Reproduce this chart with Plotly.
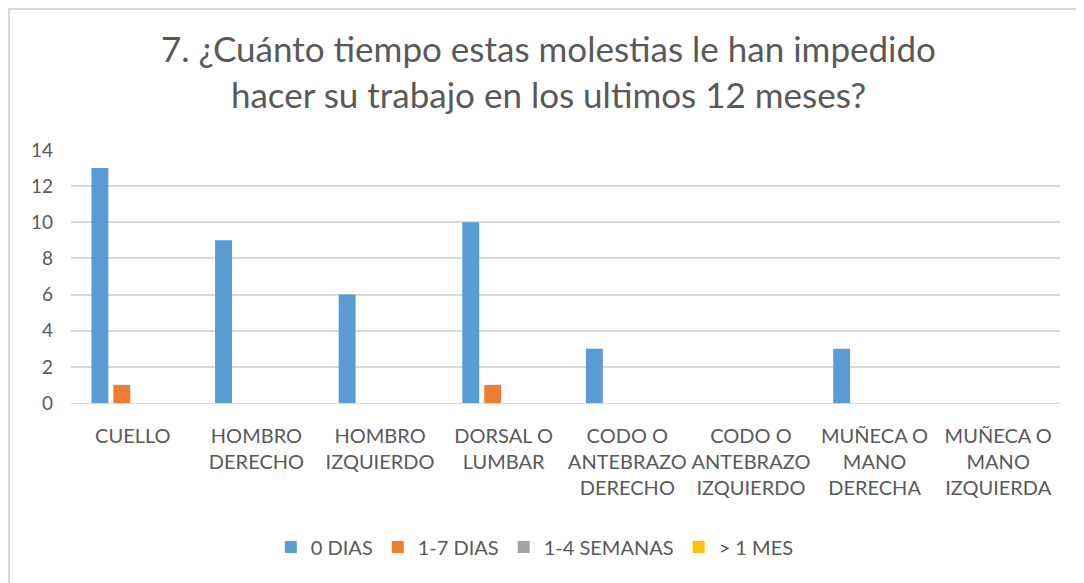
import plotly.graph_objects as go

categories = ["CUELLO", "HOMBRO<br>DERECHO", "HOMBRO<br>IZQUIERDO", "DORSAL O<br>LUMBAR",
              "CODO O<br>ANTEBRAZO<br>DERECHO", "CODO O<br>ANTEBRAZO<br>IZQUIERDO",
              "MUÑECA O<br>MANO<br>DERECHA", "MUÑECA O<br>MANO<br>IZQUIERDA"]
series_names = ["0 DIAS", "1-7 DIAS", "1-4 SEMANAS", "> 1 MES"]
dias_0 = [13, 9, 6, 10, 3, 0, 3, 0]
dias_1_7 = [1, 0, 0, 1, 0, 0, 0, 0]
semanas_1_4 = [0, 0, 0, 0, 0, 0, 0, 0]
mes_1 = [0, 0, 0, 0, 0, 0, 0, 0]
colors = ["#5B9BD5", "#ED7D31", "#A5A5A5", "#FFC000"]
tick_vals = [0, 2, 4, 6, 8, 10, 12, 14]

FONT = "Lato"
TXT = "#595959"
W, H = 1076, 575
L, R, T, B = 63, 24, 142, 180
PH = H - T - B

fig = go.Figure()
for name, vals, c in zip(series_names, [dias_0, dias_1_7, semanas_1_4, mes_1], colors):
    fig.add_trace(go.Bar(name=name, x=categories, y=vals, marker_color=c,
                         marker_line_width=0))

fig.update_layout(
    width=W, height=H,
    paper_bgcolor="white", plot_bgcolor="white",
    margin=dict(l=L, r=R, t=T, b=B, autoexpand=False),
    barmode="group", bargap=0.29, bargroupgap=0.23,
    title=dict(text="7. ¿Cuánto tiempo estas molestias le han impedido<br>hacer su trabajo en los ultimos 12 meses?",
               x=540.5 / W, xanchor="center", y=1 - 54 / H, yref="container", yanchor="middle",
               font=dict(family=FONT, size=35, color=TXT)),
    font=dict(family=FONT, color=TXT, size=20),
    legend=dict(orientation="h", x=0.469, xanchor="center", y=-144 / PH, yanchor="middle",
                font=dict(family=FONT, size=20, color=TXT), itemwidth=30,
                traceorder="normal"),
    shapes=[dict(type="rect", xref="paper", yref="paper", x0=-62 / 989, x1=1.2,
                 y0=-1.0, y1=(PH + T - 1) / PH, line=dict(color="#D9D9D9", width=2),
                 layer="below")],
)
fig.update_xaxes(showgrid=False, showline=True, linecolor="#D9D9D9", linewidth=1,
                 ticks="", tickfont=dict(family=FONT, size=20, color=TXT), tickangle=0,
                 automargin=False, ticklabelstandoff=15)
fig.update_yaxes(range=[0, 14], tickvals=tick_vals, showgrid=True, gridcolor="#D9D9D9",
                 gridwidth=1.5, zeroline=False, showline=False, ticks="",
                 tickfont=dict(family=FONT, size=19, color=TXT), automargin=False,
                 ticklabelstandoff=17)

fig.write_html("out.html")
